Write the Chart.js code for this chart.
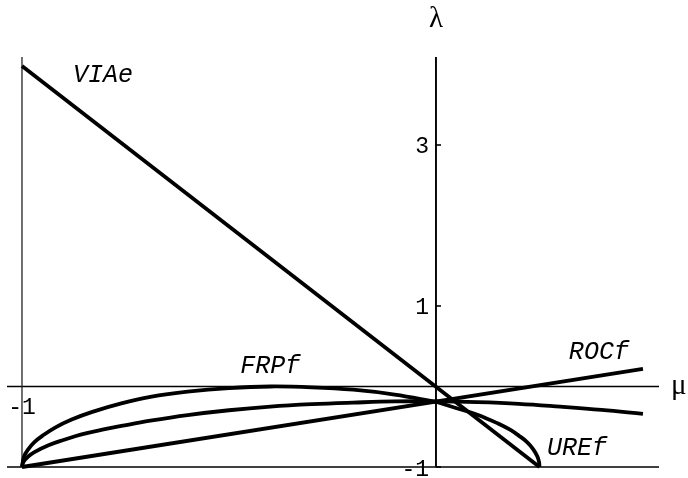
<!DOCTYPE html>
<html>
<head>
<meta charset="utf-8">
<script src="https://cdn.jsdelivr.net/npm/chart.js@4/dist/chart.umd.min.js"></script>
<style>
  html, body { margin: 0; padding: 0; background: #fff; }
  canvas { display: block; }
</style>
</head>
<body>
<canvas id="c" width="688" height="478"></canvas>
<script>
// ---- curve samples in the (μ, λ) plane ----
const viaeMu = [-1, 0.25];
const viaeLambda = [3.98, -1];

const rocfMu = [-1, 0.5];
const rocfLambda = [-1, 0.22];

const frpfMu = [-1, -0.995, -0.985, -0.97, -0.95, -0.92, -0.88, -0.83, -0.76, -0.69, -0.6, -0.5, -0.4, -0.3, -0.2, -0.1, 0];
const frpfLambda = [-1, -0.87, -0.78, -0.69, -0.61, -0.51, -0.41, -0.315, -0.21, -0.13, -0.065, -0.02, 0, -0.01, -0.04, -0.1, -0.19];

const urefMu = [0, 0.05, 0.1, 0.15, 0.18, 0.2, 0.22, 0.235, 0.245, 0.249, 0.25];
const urefLambda = [-0.19, -0.27, -0.35, -0.46, -0.54, -0.61, -0.69, -0.78, -0.87, -0.94, -1];

const midMu = [-1, -0.997, -0.985, -0.97, -0.936, -0.9, -0.856, -0.8, -0.76, -0.69, -0.6, -0.5, -0.4, -0.3, -0.2, -0.1, 0, 0.1, 0.2, 0.3, 0.4, 0.5];
const midLambda = [-1, -0.94, -0.87, -0.815, -0.73, -0.665, -0.595, -0.53, -0.49, -0.425, -0.355, -0.295, -0.25, -0.22, -0.2, -0.185, -0.185, -0.195, -0.215, -0.25, -0.29, -0.34];

// ---- axis ticks ----
const lambdaTicks = [-1, 1, 3];
const lambdaTickLabels = ['-1', '1', '3'];
const muTicks = [-1];
const muTickLabels = ['-1'];

// ---- curve names and where they are written (μ, λ of the text's left baseline) ----
const curveNames = ['VIAe', 'FRPf', 'ROCf', 'UREf'];
const nameMu = [-0.877, -0.473, 0.321, 0.268];
const nameLambda = [3.78, 0.168, 0.342, -0.851];

const toPoints = (xs, ys) => xs.map((x, i) => ({ x: x, y: ys[i] }));

const curveStyle = {
  showLine: true,
  borderColor: '#000',
  borderWidth: 3.8,
  borderJoinStyle: 'round',
  pointRadius: 0,
  pointHoverRadius: 0,
  fill: false,
  clip: false
};

// axes through the origin, the μ = -1 and λ = -1 lines, ticks and captions
const axesPlugin = {
  id: 'originAxes',
  beforeDatasetsDraw(chart) {
    const { ctx, chartArea: a, scales: { x, y } } = chart;
    const x0 = x.getPixelForValue(0);
    const y0 = y.getPixelForValue(0);
    const xm1 = x.getPixelForValue(-1);
    const ym1 = y.getPixelForValue(-1);
    ctx.save();
    ctx.strokeStyle = '#000';
    ctx.lineCap = 'butt';

    ctx.lineWidth = 1.5;
    ctx.beginPath(); ctx.moveTo(a.left, y0); ctx.lineTo(a.right, y0); ctx.stroke();
    ctx.lineWidth = 1.6;
    ctx.beginPath(); ctx.moveTo(a.left, ym1); ctx.lineTo(a.right, ym1); ctx.stroke();
    ctx.lineWidth = 1.9;
    ctx.beginPath(); ctx.moveTo(x0, a.top); ctx.lineTo(x0, ym1); ctx.stroke();
    ctx.strokeStyle = '#222';
    ctx.lineWidth = 1.3;
    ctx.beginPath(); ctx.moveTo(xm1, a.top); ctx.lineTo(xm1, ym1); ctx.stroke();

    // λ ticks on the vertical axis
    ctx.strokeStyle = '#000';
    ctx.lineWidth = 1.6;
    ctx.fillStyle = '#000';
    ctx.font = '23px "Liberation Mono", "DejaVu Sans Mono", monospace';
    ctx.textAlign = 'right';
    ctx.textBaseline = 'middle';
    lambdaTicks.forEach((v, i) => {
      const py = y.getPixelForValue(v);
      ctx.beginPath(); ctx.moveTo(x0, py); ctx.lineTo(x0 + 5, py); ctx.stroke();
      ctx.fillText(lambdaTickLabels[i], x0 - 7, py + (v === -1 ? 3 : 2));
    });

    // μ ticks on the horizontal axis
    ctx.textAlign = 'center';
    muTicks.forEach((v, i) => {
      const px = x.getPixelForValue(v);
      ctx.fillText(muTickLabels[i], px, y0 + 21);
    });

    // axis captions
    ctx.font = '29px "Liberation Serif", "DejaVu Serif", serif';
    ctx.textAlign = 'center';
    ctx.textBaseline = 'alphabetic';
    ctx.fillText('λ', x0, 27);
    ctx.textAlign = 'left';
    ctx.fillText('μ', a.right + 12, y0 + 8);
    ctx.restore();
  },
  afterDatasetsDraw(chart) {
    const { ctx, scales: { x, y } } = chart;
    ctx.save();
    ctx.fillStyle = '#000';
    ctx.font = 'italic 25px "Liberation Mono", "DejaVu Sans Mono", monospace';
    ctx.textAlign = 'left';
    ctx.textBaseline = 'alphabetic';
    curveNames.forEach((name, i) => {
      ctx.fillText(name, x.getPixelForValue(nameMu[i]), y.getPixelForValue(nameLambda[i]));
    });
    ctx.restore();
  }
};

new Chart(document.getElementById('c'), {
  type: 'scatter',
  data: {
    datasets: [
      Object.assign({ label: 'VIAe', data: toPoints(viaeMu, viaeLambda) }, curveStyle, { tension: 0 }),
      Object.assign({ label: 'ROCf', data: toPoints(rocfMu, rocfLambda) }, curveStyle, { tension: 0 }),
      Object.assign({ label: 'FRPf', data: toPoints(frpfMu, frpfLambda) }, curveStyle, { tension: 0.4 }),
      Object.assign({ label: 'UREf', data: toPoints(urefMu, urefLambda) }, curveStyle, { tension: 0.4 }),
      Object.assign({ label: '', data: toPoints(midMu, midLambda) }, curveStyle, { tension: 0.4 })
    ]
  },
  options: {
    responsive: false,
    devicePixelRatio: 1,
    animation: false,
    layout: { padding: { left: 7, right: 29, top: 57, bottom: 11 } },
    plugins: { legend: { display: false }, tooltip: { enabled: false } },
    events: [],
    scales: {
      x: { type: 'linear', min: -1.0362, max: 0.5387, display: false },
      y: { type: 'linear', min: -1, max: 4.093, display: false }
    }
  },
  plugins: [axesPlugin]
});
</script>
</body>
</html>
